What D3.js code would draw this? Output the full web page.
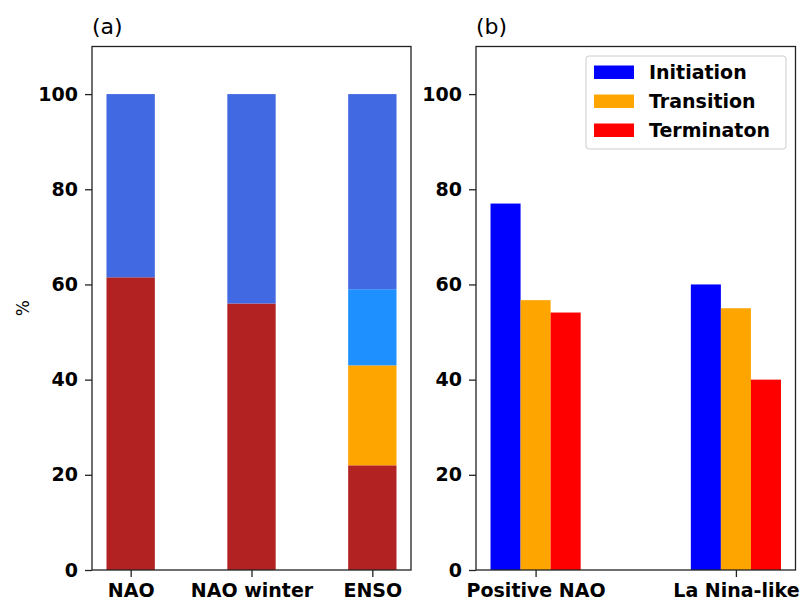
<!DOCTYPE html>
<html>
<head>
<meta charset="utf-8">
<script src="https://cdn.jsdelivr.net/npm/d3@7"></script>
<style>
  body { margin: 0; background: #fff; }
  svg { font-family: "DejaVu Sans", sans-serif; }
</style>
</head>
<body>
<svg width="805" height="603"></svg>
<script>
// panel (a): stacked shares
var catsA = ['NAO', 'NAO winter', 'ENSO'];
var redA = [61.5, 56, 22];
var orangeA = [0, 0, 21];
var dodgerA = [0, 0, 16];
var royalA = [38.5, 44, 41];

// panel (b): grouped bars
var catsB = ['Positive NAO', 'La Nina-like'];
var seriesB = ['Initiation', 'Transition', 'Terminaton'];
var initiation = [77, 60];
var transition = [56.7, 55];
var termination = [54.1, 40];
var colorsB = ['#0000ff', '#ffa500', '#ff0000'];

var yTicks = [0, 20, 40, 60, 80, 100];

var svg = d3.select('svg');
var plotTop = 46.5, plotBottom = 570;

function yScale() {
    return d3.scaleLinear().domain([0, 110]).range([plotBottom, plotTop]);
}

function frame(g, x0, x1, y) {
    g.append('rect')
        .attr('x', x0).attr('y', plotTop)
        .attr('width', x1 - x0).attr('height', plotBottom - plotTop)
        .attr('fill', 'none').attr('stroke', '#222').attr('stroke-width', 1.3);

    var ya = g.append('g').attr('transform', 'translate(' + x0 + ',0)')
        .call(d3.axisLeft(y).tickValues(yTicks).tickSize(7).tickPadding(7));
    ya.select('.domain').remove();
    ya.selectAll('line').attr('stroke', '#222').attr('stroke-width', 1.3);
    ya.selectAll('text').attr('font-size', 19).attr('font-weight', 'bold')
        .attr('fill', '#000').attr('font-family', 'DejaVu Sans');
}

function xAxis(g, x, cats) {
    var xa = g.append('g').attr('transform', 'translate(0,' + plotBottom + ')')
        .call(d3.axisBottom(x).tickValues(d3.range(cats.length))
            .tickFormat(function(d) { return cats[d]; })
            .tickSize(7).tickPadding(7));
    xa.select('.domain').remove();
    xa.selectAll('line').attr('stroke', '#222').attr('stroke-width', 1.3);
    xa.selectAll('text').attr('font-size', 19).attr('font-weight', 'bold')
        .attr('fill', '#000').attr('font-family', 'DejaVu Sans');
}

// ----- panel (a)
var gA = svg.append('g');
var xA = d3.scaleLinear().domain([-0.32, 2.32]).range([92, 411]);
var yA = yScale();
var stackA = [
    {vals: redA, color: '#b22222'},
    {vals: orangeA, color: '#ffa500'},
    {vals: dodgerA, color: '#1e90ff'},
    {vals: royalA, color: '#4169e1'}
];
catsA.forEach(function(c, i) {
    var base = 0;
    stackA.forEach(function(s) {
        var v = s.vals[i];
        if (v > 0) {
            gA.append('rect')
                .attr('x', xA(i - 0.2))
                .attr('width', xA(i + 0.2) - xA(i - 0.2))
                .attr('y', yA(base + v))
                .attr('height', yA(base) - yA(base + v))
                .attr('fill', s.color);
        }
        base += v;
    });
});
frame(gA, 92, 411, yA);
xAxis(gA, xA, catsA);
gA.append('text').attr('x', 92).attr('y', 34).attr('font-size', 22).text('(a)');
gA.append('text')
    .attr('transform', 'translate(23,' + ((plotTop + plotBottom) / 2) + ') rotate(-90)')
    .attr('text-anchor', 'middle').attr('dominant-baseline', 'central')
    .attr('font-size', 17).text('%');

// ----- panel (b)
var gB = svg.append('g');
var xB = d3.scaleLinear().domain([-0.2975, 1.2975]).range([476, 795.5]);
var yB = yScale();
var valsB = [initiation, transition, termination];
var w = 0.15;
valsB.forEach(function(vals, k) {
    gB.selectAll('rect.s' + k).data(vals).enter().append('rect')
        .attr('class', 's' + k)
        .attr('x', function(d, i) { return xB(i + (k - 1) * w - w / 2); })
        .attr('width', xB(w) - xB(0))
        .attr('y', function(d) { return yB(d); })
        .attr('height', function(d) { return yB(0) - yB(d); })
        .attr('fill', colorsB[k]);
});
frame(gB, 476, 795.5, yB);
xAxis(gB, xB, catsB);
gB.append('text').attr('x', 476).attr('y', 34).attr('font-size', 22).text('(b)');

// legend
var leg = gB.append('g').attr('transform', 'translate(586,56)');
leg.append('rect').attr('width', 200).attr('height', 93).attr('rx', 3)
    .attr('fill', '#fff').attr('fill-opacity', 0.8)
    .attr('stroke', '#ccc').attr('stroke-width', 1);
seriesB.forEach(function(s, k) {
    leg.append('rect').attr('x', 8).attr('y', 9.5 + k * 29)
        .attr('width', 40).attr('height', 13.5).attr('fill', colorsB[k]);
    leg.append('text').attr('x', 63).attr('y', 23 + k * 29)
        .attr('font-size', 19).attr('font-weight', 'bold').text(s);
});
</script>
</body>
</html>
